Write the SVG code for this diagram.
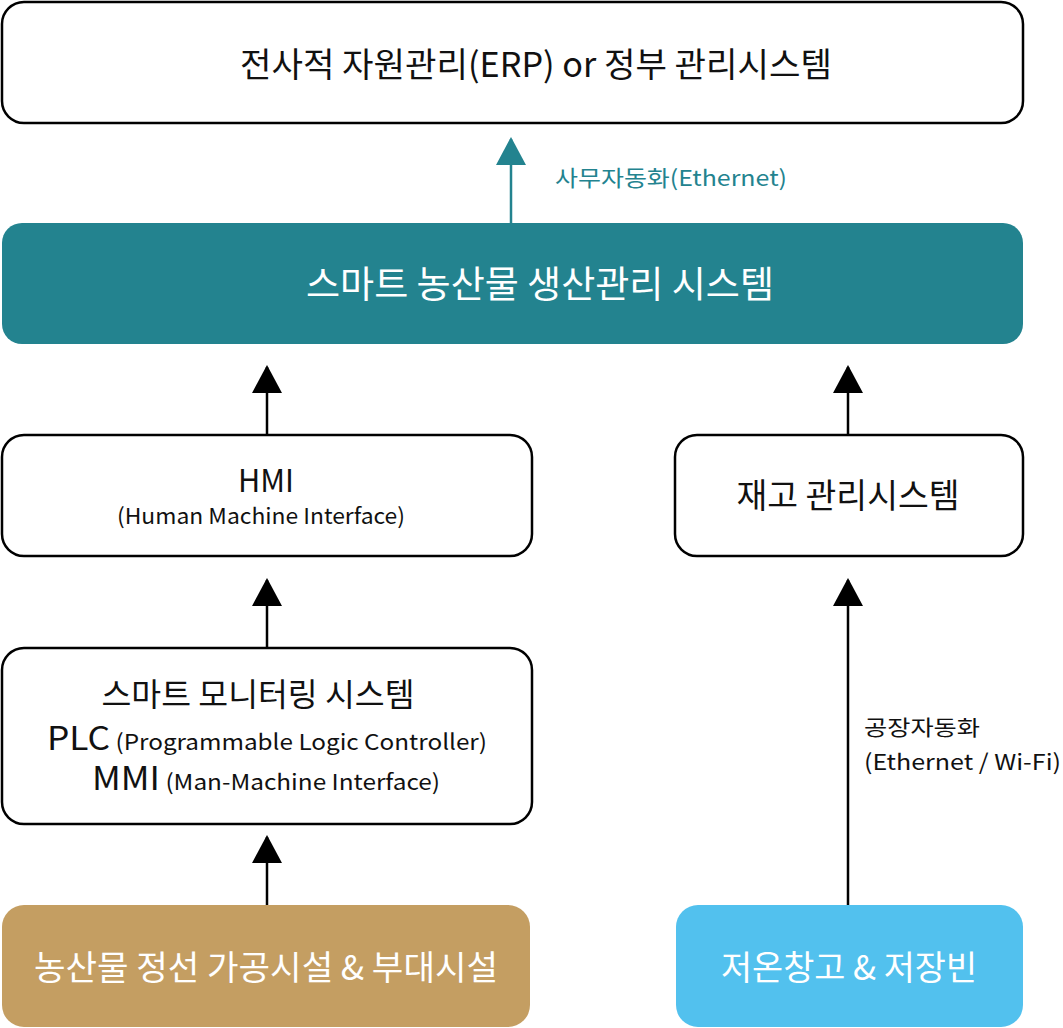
<svg xmlns="http://www.w3.org/2000/svg" width="1063" height="1028" viewBox="0 0 1063 1028">
<style>
.box{fill:#fff;stroke:#000;stroke-width:2.5}
.t{font-family:"Noto Sans CJK KR","Noto Sans",sans-serif;text-anchor:middle;fill:#111}
.s{text-anchor:start}
.w{fill:#fff}
.c{stroke:#000;stroke-width:2.5;fill:none}
</style>
<defs>
<marker id="ah" markerWidth="28" markerHeight="30" refX="26" refY="15" viewBox="0 0 28 30" markerUnits="userSpaceOnUse" orient="auto"><path d="M0,0 L28,15 L0,30 Z" fill="#000"/></marker>
<marker id="ahT" markerWidth="28" markerHeight="30" refX="26" refY="15" viewBox="0 0 28 30" markerUnits="userSpaceOnUse" orient="auto"><path d="M0,0 L28,15 L0,30 Z" fill="#23838F"/></marker>
</defs>
<rect width="1063" height="1028" fill="#fff"/>
<g id="connectors">
<line x1="511" y1="223" x2="511" y2="139" stroke="#23838F" stroke-width="2.5" marker-end="url(#ahT)"/>
<line class="c" x1="267" y1="435" x2="267" y2="367" marker-end="url(#ah)"/>
<line class="c" x1="848" y1="435" x2="848" y2="367" marker-end="url(#ah)"/>
<line class="c" x1="267" y1="648" x2="267" y2="580" marker-end="url(#ah)"/>
<line class="c" x1="267" y1="905" x2="267" y2="837" marker-end="url(#ah)"/>
<line class="c" x1="848" y1="905" x2="848" y2="580" marker-end="url(#ah)"/>
<text class="t s" x="555" y="186" textLength="232" lengthAdjust="spacingAndGlyphs" style="fill:#23838F;font-size:22px">사무자동화(Ethernet)</text>
<text class="t s" x="864" y="735" textLength="116" lengthAdjust="spacingAndGlyphs" style="font-size:21px">공장자동화</text>
<text class="t s" x="864" y="770" textLength="197" lengthAdjust="spacingAndGlyphs" style="font-size:22px">(Ethernet / Wi-Fi)</text>
</g>
<g id="erp">
<rect class="box" x="2" y="2" width="1021" height="121" rx="22"/>
<text class="t" x="536" y="77" textLength="592" lengthAdjust="spacingAndGlyphs" style="font-size:34px">전사적 자원관리(ERP) or 정부 관리시스템</text>
</g>
<g id="smart-production">
<rect x="2" y="223" width="1021" height="121" rx="20" fill="#23838F"/>
<text class="t w" x="540" y="298" textLength="468" lengthAdjust="spacingAndGlyphs" style="font-size:37px">스마트 농산물 생산관리 시스템</text>
</g>
<g id="hmi">
<rect class="box" x="2" y="435" width="530" height="121" rx="22"/>
<text class="t" x="266" y="492" textLength="56" lengthAdjust="spacingAndGlyphs" style="font-size:31px">HMI</text>
<text class="t" x="261" y="524" textLength="288" lengthAdjust="spacingAndGlyphs" style="font-size:22px">(Human Machine Interface)</text>
</g>
<g id="inventory">
<rect class="box" x="675" y="435" width="348" height="121" rx="22"/>
<text class="t" x="848" y="508" textLength="223" lengthAdjust="spacingAndGlyphs" style="font-size:34px">재고 관리시스템</text>
</g>
<g id="monitoring">
<rect class="box" x="2" y="648" width="530" height="176" rx="22"/>
<text class="t" x="258" y="706" textLength="313" lengthAdjust="spacingAndGlyphs" style="font-size:32px">스마트 모니터링 시스템</text>
<text class="t" x="267" y="750" textLength="440" lengthAdjust="spacingAndGlyphs"><tspan style="font-size:32px">PLC</tspan><tspan style="font-size:22px"> (Programmable Logic Controller)</tspan></text>
<text class="t" x="266" y="790" textLength="348" lengthAdjust="spacingAndGlyphs"><tspan style="font-size:32px">MMI</tspan><tspan style="font-size:22px"> (Man-Machine Interface)</tspan></text>
</g>
<g id="processing">
<rect x="2" y="905" width="528" height="122" rx="22" fill="#C49E62"/>
<text class="t w" x="266" y="980" textLength="464" lengthAdjust="spacingAndGlyphs" style="font-size:34px">농산물 정선 가공시설 &amp; 부대시설</text>
</g>
<g id="cold-storage">
<rect x="676" y="905" width="347" height="122" rx="22" fill="#52C1EE"/>
<text class="t w" x="849" y="980" textLength="256" lengthAdjust="spacingAndGlyphs" style="font-size:34px">저온창고 &amp; 저장빈</text>
</g>
</svg>
